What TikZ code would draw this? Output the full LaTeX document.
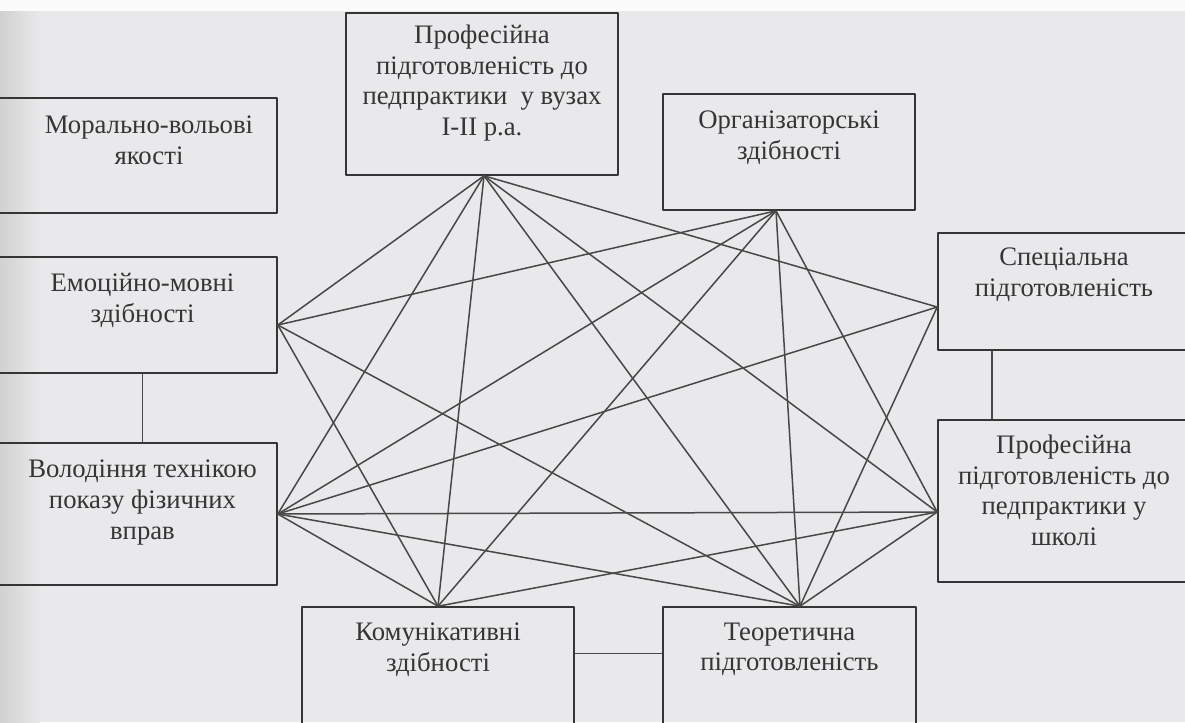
\documentclass[tikz,border=0pt]{standalone}
\usepackage{fontspec}
\setmainfont{Liberation Serif}
\usetikzlibrary{positioning}
\definecolor{paper}{HTML}{E9E9EB}
\definecolor{ink}{HTML}{353535}
\definecolor{wire}{HTML}{484848}
\tikzset{
	blok/.style={draw=ink, line width=0.32mm, inner sep=0pt},
	napys/.style={text=ink, align=center, inner sep=0pt, font=\fontsize{15.2}{17.6}\selectfont},
	zvjazok/.style={draw=wire, line width=0.3mm}
}
\begin{document}
\begin{tikzpicture}[x=0.2mm, y=-0.2mm, line join=round, line cap=round]%Skhema
	\useasboundingbox (0,0) rectangle (1185,722);
	\fill[paper] (0,0) rectangle (1185,722);
	\fill[white!80!paper] (0,0) rectangle (1185,11);
	\shade[left color=black!18, right color=paper] (0,11) rectangle (40,722);
	% ramky
	\node[blok, minimum width=54.4mm, minimum height=32.4mm] (vuz) at (482,94) {};
	\node[blok, minimum width=50.4mm, minimum height=23.2mm] (org) at (789,152) {};
	\node[blok, minimum width=50.4mm, minimum height=23.4mm] (spec) at (1064,291.5) {};
	\node[blok, minimum width=50.4mm, minimum height=32.4mm] (shkola) at (1064,501) {};
	\node[blok, minimum width=50.6mm, minimum height=30.6mm] (teor) at (789.5,683.5) {};
	\node[blok, minimum width=54.4mm, minimum height=30.6mm] (komun) at (438,683.5) {};
	\node[blok, minimum width=56.2mm, minimum height=23mm] (moral) at (136.5,155.5) {};
	\node[blok, minimum width=56.2mm, minimum height=23.2mm] (emoc) at (136.5,315) {};
	\node[blok, minimum width=56.2mm, minimum height=28.4mm] (tekhn) at (136.5,514) {};
	% napysy
	\node[napys, below=2.4mm of vuz.north] (vuzT) {Професійна\\підготовленість до\\педпрактики\ \ у вузах\\I-II р.а.};
	\node[napys, below=3.4mm of org.north] (orgT) {Організаторські\\здібності};
	\node[napys, below=3mm of spec.north] (specT) {Спеціальна\\підготовленість};
	\node[napys, below=3mm of shkola.north] (shkolaT) {Професійна\\підготовленість до\\педпрактики у\\школі};
	\node[napys, below=3.2mm of teor.north] (teorT) {Теоретична\\підготовленість};
	\node[napys, below=3.2mm of komun.north] (komunT) {Комунікативні\\здібності};
	\node[napys, below=3.6mm of moral.north, xshift=2.5mm] (moralT) {Морально-вольові\\якості};
	\node[napys, below=3.4mm of emoc.north, xshift=1.2mm] (emocT) {Емоційно-мовні\\здібності};
	\node[napys, below=3.4mm of tekhn.north, xshift=1.2mm] (tekhnT) {Володіння технікою\\показу фізичних\\вправ};
	\draw[zvjazok] ([xshift=1.2mm]emoc.south)--([xshift=1.2mm]tekhn.north);
	\draw[zvjazok] ([xshift=-14.4mm]spec.south)--([xshift=-14.4mm]shkola.north);
	\draw[zvjazok] ([yshift=6mm]komun.east)--([yshift=6mm]teor.west);
	% tochky zvjazkiv
	\path ([xshift=0.4mm]vuz.south)coordinate(A) ([xshift=-2.6mm]org.south)coordinate(B)
		([yshift=-3.1mm]spec.west)coordinate(C) ([yshift=-2.2mm]shkola.west)coordinate(D)
		([xshift=2.1mm]teor.north)coordinate(E) (komun.north)coordinate(F)
		(tekhn.east)coordinate(G) ([yshift=-2mm]emoc.east)coordinate(H);
	\foreach \p/\q in {A/C,A/D,A/E,A/F,A/G,A/H,B/D,B/E,B/F,B/G,B/H,C/E,C/G,D/E,D/F,D/G,E/G,E/H,F/G,F/H}
	\draw[zvjazok](\p)--(\q);
\end{tikzpicture}
\end{document}
